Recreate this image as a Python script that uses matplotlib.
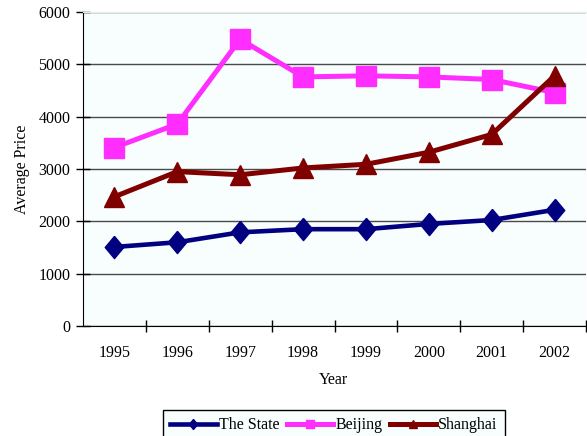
import matplotlib
matplotlib.use("Agg")
import matplotlib.pyplot as plt
import numpy as np

plt.rcParams['font.family'] = ['Liberation Serif', 'DejaVu Serif']
plt.rcParams['font.size'] = 11.5

years = ['1995', '1996', '1997', '1998', '1999', '2000', '2001', '2002']
the_state = [1510, 1600, 1790, 1850, 1850, 1950, 2025, 2220]
beijing = [3410, 3860, 5480, 4760, 4780, 4760, 4710, 4460]
shanghai = [2470, 2950, 2890, 3020, 3090, 3320, 3660, 4780]

W, H = 587, 436
fig = plt.figure(figsize=(W / 100, H / 100), dpi=100)
ax = fig.add_axes([83 / W, (H - 326) / H, 503 / W, 314 / H])
ax.set_facecolor('#F8FDFD')

x = np.arange(len(years))
diamond = [(0, 1.2), (1, 0), (0, -1.2), (-1, 0), (0, 1.2)]

ax.plot(x, the_state, color='#000080', lw=3.3, marker=diamond, ms=16,
        label='The State', zorder=3)
ax.plot(x, beijing, color='#FF2EFF', lw=3.6, marker='s', ms=14,
        label='Beijing', zorder=3)
ax.plot(x, shanghai, color='#800000', lw=3.6, marker='^', ms=14,
        label='Shanghai', zorder=4)

ax.set_xlim(-0.5, len(years) - 0.5)
ax.set_ylim(0, 6000)
ax.set_yticks(np.arange(0, 6001, 1000))
ax.set_xticks(x)
ax.set_xticklabels(years)
ax.set_xticks(np.arange(0.5, len(years), 1), minor=True)
ax.tick_params(axis='x', which='major', length=0, pad=14)
ax.tick_params(axis='x', which='minor', direction='inout', length=9, width=1)
ax.tick_params(axis='y', direction='inout', length=10, width=1, pad=4)

ax.grid(axis='y', color='#4a4a4a', lw=1)
ax.set_axisbelow(True)
ax.spines['right'].set_visible(False)
ax.spines['top'].set_color('#E6ECEC')
ax.spines['left'].set_color('black')
ax.spines['bottom'].set_color('black')
ax.spines['bottom'].set_zorder(5)

ax.set_xlabel('Year')
ax.xaxis.set_label_coords(0.497, -(372 - 326) / 314)
ax.set_ylabel('Average Price')
ax.yaxis.set_label_coords(-(83 - 30) / 503, 0.5)

leg = fig.legend(loc='upper center', bbox_to_anchor=(334 / W, (H - 410) / H),
                 ncol=3, frameon=True, fancybox=False, edgecolor='black',
                 facecolor='#F8FDFD', framealpha=1, markerscale=0.45,
                 handlelength=2.9, handletextpad=0.15, columnspacing=0.45,
                 borderpad=0.45, borderaxespad=0)
leg.get_frame().set_linewidth(1)

fig.savefig('out.png', dpi=100)
